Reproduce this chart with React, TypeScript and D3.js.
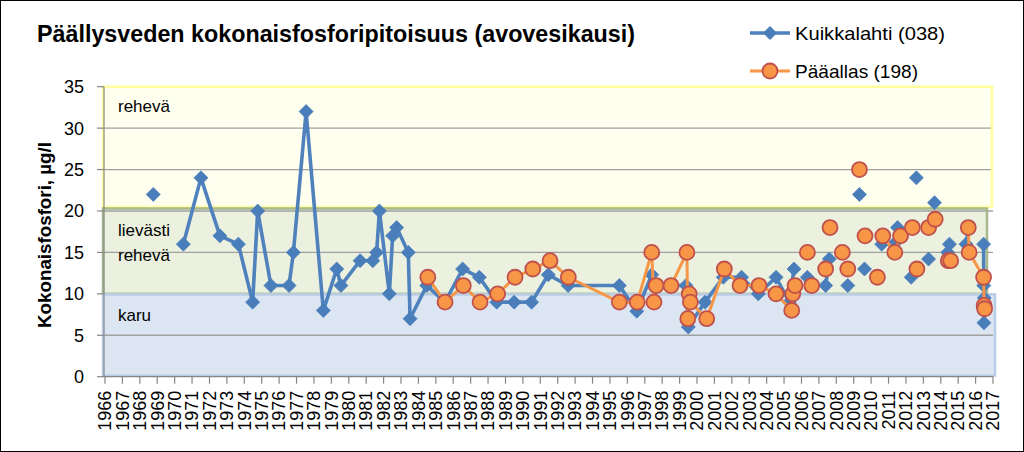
import React from "react";
import * as d3 from "d3";

const title = "Päällysveden kokonaisfosforipitoisuus (avovesikausi)";
const yTitle = "Kokonaisfosfori, µg/l";
const seriesNames = ["Kuikkalahti (038)", "Pääallas (198)"];

const yearTicks = [
  1966, 1967, 1968, 1969, 1970, 1971, 1972, 1973, 1974, 1975, 1976, 1977, 1978,
  1979, 1980, 1981, 1982, 1983, 1984, 1985, 1986, 1987, 1988, 1989, 1990, 1991,
  1992, 1993, 1994, 1995, 1996, 1997, 1998, 1999, 2000, 2001, 2002, 2003, 2004,
  2005, 2006, 2007, 2008, 2009, 2010, 2011, 2012, 2013, 2014, 2015, 2016, 2017,
];
const yTicks = [0, 5, 10, 15, 20, 25, 30, 35];

// trophic classes: [low, high, label lines]
const bandLow = [20, 10, 0];
const bandHigh = [35, 20, 10];
const bandLabels = [["rehevä"], ["lievästi", "rehevä"], ["karu"]];

// Kuikkalahti (038): decimal year, value (null = gap in the line)
const kuikkaDates: (number | null)[] = [
  1968.77, null,
  1970.5, 1971.51, 1972.6, 1973.66, 1974.48, 1974.77, 1975.53, 1976.57, 1976.82,
  1977.55, 1978.54, 1979.31, 1979.55, 1980.65, 1981.38, 1981.6, 1981.76, 1982.33,
  1982.52, 1982.75, 1983.42, 1983.52, 1984.48, 1985.53, 1986.54, 1987.5, 1988.5,
  1989.5, 1990.5, 1991.46, 1992.6, 1995.54, 1996.54, 1997.4, 1997.62, 1998.5,
  1999.37, 1999.5, 2000.46, 2001.51, 2002.56, 2003.52, 2004.54, 2005.3, 2005.57, null,
  2006.34, null, 2007.39, 2007.6, null, 2008.66, null, 2009.33, null, 2009.62, null,
  2010.61, null, 2011.3, 2011.52, null, 2012.3, null, 2012.6, null, 2013.3, null,
  2013.64, null, 2014.4, 2014.5, null, 2015.45, 2015.6, null,
  2016.46, 2016.47, 2016.5, 2016.48,
];
const kuikkaValues: (number | null)[] = [
  22, null,
  16, 24, 17, 16, 9, 20, 11, 11, 15,
  32, 8, 13, 11, 14, 14, 15, 20, 10,
  17, 18, 15, 7, 11, 9, 13, 12, 9,
  9, 9, 12.3, 11, 11, 7.9, 12.3, 11, 11,
  11, 6, 9, 12, 12, 10, 12, 9, 13, null,
  12, null, 11, 14.2, null, 11, null, 22, null, 13, null,
  16, null, 16, 18, null, 12, null, 24, null, 14.2, null,
  21, null, 15, 16, null, 16, 18, null,
  16, 11, 9.5, 6.5,
];

// Pääallas (198)
const paaDates: (number | null)[] = [
  1984.54, 1985.53, 1986.58, 1987.54, 1988.55, 1989.55, 1990.57, 1991.56, 1992.61,
  1995.54, 1996.57, 1997.4, 1997.53, 1997.65, 1998.51, 1999.42, 1999.47, 1999.55,
  1999.62, 2000.56, 2001.57, 2002.47, 2003.56, 2004.54, 2005.44, 2005.5, 2005.63, null,
  2006.34, null, 2006.59, null, 2007.39, null, 2007.64, null, 2008.35, null, 2008.66, null,
  2009.33, null, 2009.65, null, 2010.36, null, 2010.67, 2011.36, 2011.69, null,
  2012.37, null, 2012.63, null, 2013.3, null, 2013.68, null, 2014.43, 2014.57, null,
  2015.58, 2015.63, 2016.46, 2016.49, 2016.52,
];
const paaValues: (number | null)[] = [
  12, 9, 11, 9, 10, 12, 13, 14, 12,
  9, 9, 15, 9, 11, 11, 15, 7, 10,
  9, 7, 13, 11, 11, 10, 8, 10, 11, null,
  15, null, 11, null, 13, null, 18, null, 15, null, 13, null,
  25, null, 17, null, 12, null, 17, 15, 17, null,
  18, null, 13, null, 18, null, 19, null, 14, 14, null,
  18, 15, 12, 8.6, 8.2,
];

type Pt = { t: number | null; v: number | null };
const zip = (ts: (number | null)[], vs: (number | null)[]): Pt[] =>
  ts.map((t, i) => ({ t, v: vs[i] }));

const BLUE = "#4A7EBB";
const BLUE_LINE = "#4F81BD";
const ORANGE = "#F79646";
const ORANGE_EDGE = "#C0504D";
const FONT = "'Liberation Sans', Arial, sans-serif";

export default function App() {
  const W = 1024;
  const H = 452;
  const x = d3.scaleLinear().domain([1966, 2017]).range([105, 993]);
  const y = d3.scaleLinear().domain([0, 35]).range([376.7, 86.7]);

  const kuikka = zip(kuikkaDates, kuikkaValues);
  const paa = zip(paaDates, paaValues);

  const line = d3
    .line<Pt>()
    .defined((d) => d.t != null && d.v != null)
    .x((d) => x(d.t as number))
    .y((d) => y(d.v as number));

  const dm = 7;
  const diamond = `M0,${-dm}L${dm},0L0,${dm}L${-dm},0Z`;

  const bandFill = ["#FFFFF0", "#EBF1DE", "#DCE6F2"];
  const bandStroke = ["#FFFF9E", "#A9B98E", "#B9CDE5"];
  const bandRect = [
    { x0: x(1966) - 2, x1: x(2017) - 1, top: y(35), bot: y(20) - 4 },
    { x0: x(1966) - 2, x1: x(2017) - 6, top: y(20) - 2.5, bot: y(10) },
    { x0: x(1966) - 2, x1: x(2017) + 2, top: y(10) + 0.5, bot: y(0) - 1 },
  ];
  const labelPos = [
    [y(35) + 25],
    [y(20) + 25.5, y(20) + 50.5],
    [y(10) + 27],
  ];

  return (
    <svg
      width={W}
      height={H}
      style={{ position: "absolute", left: 0, top: 0, background: "#fff" }}
      fontFamily={FONT}
    >
      <rect x={0} y={0} width={W} height={H} fill="#fff" />

      {/* bands */}
      {bandLow.map((lo, i) => (
        <rect
          key={"bf" + i}
          x={bandRect[i].x0}
          y={bandRect[i].top}
          width={bandRect[i].x1 - bandRect[i].x0}
          height={bandRect[i].bot - bandRect[i].top}
          fill={bandFill[i]}
        />
      ))}

      {/* gridlines */}
      {yTicks.slice(1).map((v) => (
        <line
          key={"g" + v}
          x1={x(1966) - 1}
          x2={x(2017)}
          y1={y(v)}
          y2={y(v)}
          stroke="#A0A0A0"
          strokeWidth={1.3}
        />
      ))}

      {bandLow.map((lo, i) => (
        <rect
          key={"bs" + i}
          x={bandRect[i].x0}
          y={bandRect[i].top}
          width={bandRect[i].x1 - bandRect[i].x0}
          height={bandRect[i].bot - bandRect[i].top}
          fill="none"
          stroke={bandStroke[i]}
          strokeWidth={2.5}
        />
      ))}

      {/* band labels */}
      {bandLabels.map((lines, i) =>
        lines.map((s, j) => (
          <text key={"bl" + i + j} x={118} y={labelPos[i][j]} fontSize={17} fill="#000">
            {s}
          </text>
        ))
      )}

      {/* axes */}
      <line x1={x(1966) - 1} x2={x(1966) - 1} y1={y(35)} y2={y(0)} stroke="#868686" strokeWidth={1.2} />
      <line x1={x(1966) - 1} x2={x(2017)} y1={y(0)} y2={y(0)} stroke="#868686" strokeWidth={1.2} />
      {yTicks.map((v) => (
        <g key={"yt" + v}>
          <line x1={x(1966) - 8} x2={x(1966) - 1} y1={y(v)} y2={y(v)} stroke="#868686" strokeWidth={1.2} />
          <text x={84} y={y(v)} dy="0.36em" textAnchor="end" fontSize={18} fill="#000">
            {v}
          </text>
        </g>
      ))}
      {yearTicks.map((yr) => (
        <g key={"xt" + yr}>
          <line x1={x(yr)} x2={x(yr)} y1={y(0)} y2={y(0) + 7} stroke="#868686" strokeWidth={1.2} />
          <text
            transform={`translate(${x(yr) + 6.3},${y(0) + 14}) rotate(-90)`}
            textAnchor="end"
            fontSize={18}
            fill="#000"
          >
            {yr}
          </text>
        </g>
      ))}

      {/* y axis title */}
      <text
        transform={`translate(51,235) rotate(-90)`}
        textAnchor="middle"
        fontSize={18}
        fontWeight="bold"
        textLength={186}
        lengthAdjust="spacingAndGlyphs"
        fill="#000"
      >
        {yTitle}
      </text>

      {/* series: Kuikkalahti */}
      <path d={line(kuikka) || ""} fill="none" stroke={BLUE_LINE} strokeWidth={3.6} strokeLinejoin="round" />
      {kuikka
        .filter((d) => d.t != null && d.v != null)
        .map((d, i) => (
          <path
            key={"k" + i}
            d={diamond}
            transform={`translate(${x(d.t as number)},${y(d.v as number)})`}
            fill={BLUE}
            stroke={BLUE}
            strokeWidth={0.8}
          />
        ))}

      {/* series: Pääallas */}
      <path d={line(paa) || ""} fill="none" stroke={ORANGE} strokeWidth={3} strokeLinejoin="round" />
      {paa
        .filter((d) => d.t != null && d.v != null)
        .map((d, i) => (
          <circle
            key={"p" + i}
            cx={x(d.t as number)}
            cy={y(d.v as number)}
            r={7.5}
            fill={ORANGE}
            stroke={ORANGE_EDGE}
            strokeWidth={1.8}
          />
        ))}

      {/* title */}
      <text
        x={37}
        y={42}
        fontSize={23}
        fontWeight="bold"
        textLength={598}
        lengthAdjust="spacingAndGlyphs"
        fill="#000"
      >
        {title}
      </text>

      {/* legend */}
      <line x1={750} x2={790} y1={33} y2={33} stroke={BLUE_LINE} strokeWidth={3.6} />
      <path d={diamond} transform="translate(770,33)" fill={BLUE} />
      <text x={795} y={40} fontSize={19} textLength={150} lengthAdjust="spacingAndGlyphs" fill="#000">
        {seriesNames[0]}
      </text>
      <line x1={750} x2={790} y1={71} y2={71} stroke={ORANGE} strokeWidth={3} />
      <circle cx={770} cy={71} r={7.5} fill={ORANGE} stroke={ORANGE_EDGE} strokeWidth={1.8} />
      <text x={795} y={78} fontSize={19} textLength={123} lengthAdjust="spacingAndGlyphs" fill="#000">
        {seriesNames[1]}
      </text>

      {/* outer border */}
      <rect x={0.5} y={0.5} width={W - 1} height={H - 1} fill="none" stroke="#000" strokeWidth={1} />
    </svg>
  );
}
